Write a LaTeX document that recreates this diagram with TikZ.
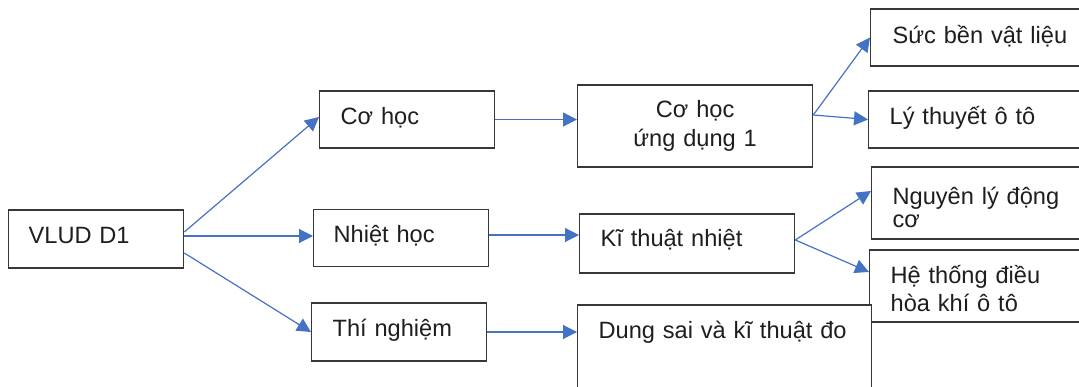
\documentclass[tikz,border=0pt]{standalone}
\usepackage{fontspec}
\setmainfont{Liberation Sans}
\usetikzlibrary{arrows.meta}
\definecolor{arrowblue}{RGB}{68,114,196}
\definecolor{boxline}{RGB}{55,55,55}
\definecolor{txt}{RGB}{30,30,30}
\begin{document}
\begin{tikzpicture}[x=1pt,y=-1pt,
  box/.style={draw=boxline, line width=1.3pt, fill=white, inner ysep=0pt,
    anchor=base west, align=left, text=txt, font=\fontsize{23.6}{28}\selectfont},
  conn/.style={draw=arrowblue, line width=1.2pt, -{Triangle[length=14pt,width=14pt]}}
]
\useasboundingbox (0,0) rectangle (1079,387);
\clip (0,0) rectangle (1079,387);

% left column
\node[box, inner xsep=20pt, text width=135pt, text height=34pt, text depth=24pt] (vl) at (8,244) {VLUD D1};
% middle column
\node[box, inner xsep=21pt, text width=133pt, text height=34pt, text depth=23pt] (coh) at (319,125) {Cơ học};
\node[box, inner xsep=20pt, text width=135pt, text height=33.4pt, text depth=24pt] (nh) at (313,242.7) {Nhiệt học};
\node[box, inner xsep=21pt, text width=133pt, text height=33.7pt, text depth=24.3pt] (tn) at (311,336.7) {Thí nghiệm};
% third column
\node[box, align=center, inner xsep=10pt, text width=215pt, text height=32.7pt, text depth=49.3pt,
  font=\fontsize{23.6}{29}\selectfont] (cud) at (577,117.7) {Cơ học\\ứng dụng 1};
\node[box, inner xsep=21pt, text width=173pt, text height=32.7pt, text depth=26.3pt] (kt) at (579,246.7) {Kĩ thuật nhiệt};
% right column
\node[box, inner xsep=22pt, text width=196pt, text height=34.3pt, text depth=22.7pt] (sb) at (870,43.3) {Sức bền vật liệu};
\node[box, inner xsep=21pt, text width=198pt, text height=34pt, text depth=23pt] (lt) at (868,125) {Lý thuyết ô tô};
\node[box, inner xsep=21pt, text width=198pt, text height=37.5pt, text depth=34.5pt,
  font=\fontsize{23.6}{23}\selectfont] (nl) at (871,204.5) {Nguyên lý động\\cơ};
\node[box, inner xsep=21pt, text width=198pt, text height=33.3pt, text depth=38.7pt,
  font=\fontsize{23.6}{28.4}\selectfont] (ht) at (869,283.3) {Hệ thống điều\\hòa khí ô tô};
\node[box, inner xsep=21pt, text width=252pt, text height=33pt, text depth=82pt] (ds) at (577,338) {\mbox{Dung sai và kĩ thuật đo}};

% connectors
\coordinate (v1) at ([yshift=7pt]vl.east);
\coordinate (v2) at ([yshift=3pt]vl.east);
\coordinate (v3) at ([yshift=-14pt]vl.east);
\draw[conn] (v1) -- ([yshift=2.5pt]coh.west);
\draw[conn] (v2) -- (v2 -| nh.west);
\draw[conn] (v3) -- (tn.west);

\coordinate (n1) at ([yshift=3pt]nh.east);
\draw[conn] (coh.east) -- (coh.east -| cud.west);
\draw[conn] (n1) -- (n1 -| kt.west);
\draw[conn] (tn.east) -- (tn.east -| ds.west);

\coordinate (c1) at ([yshift=11pt]cud.east);
\draw[conn] (c1) -- (sb.west);
\draw[conn] (c1) -- (lt.west);

\coordinate (k1) at ([yshift=3.5pt]kt.east);
\draw[conn] (k1) -- ([yshift=12pt]nl.west);
\draw[conn] (k1) -- ([yshift=14pt]ht.west);
\end{tikzpicture}
\end{document}
